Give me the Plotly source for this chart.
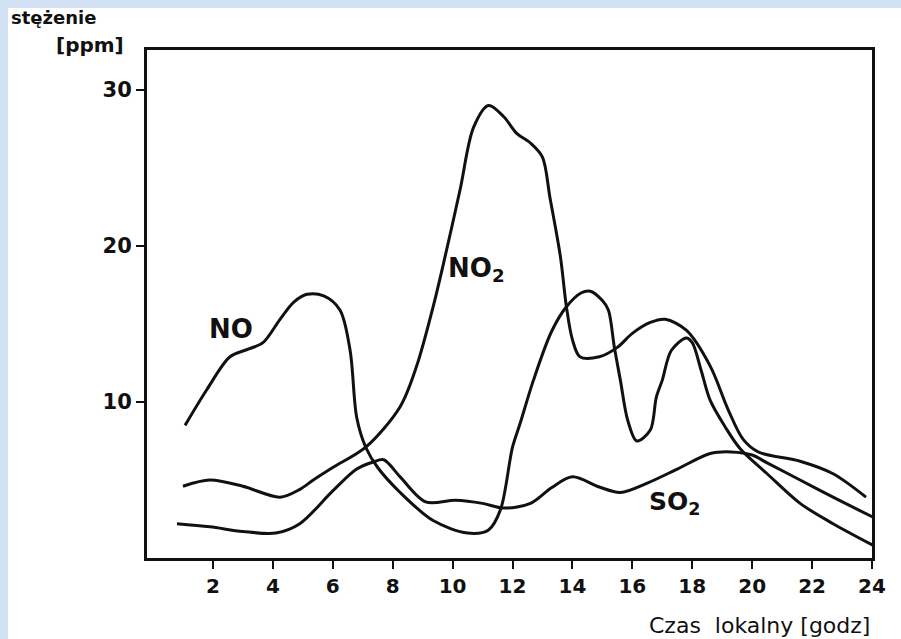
import plotly.graph_objects as go

# Hourly concentration profiles [ppm] over local time [h]
no_hours = [1.07, 1.8, 2.57, 3.2, 3.67, 4.24, 4.7, 5.14, 5.7, 6.24, 6.58, 6.8, 7.1, 7.5,
            8.25, 9.35, 10.5, 11.2, 11.6, 12.0, 12.25, 12.7, 13.3, 13.8, 14.3, 14.6,
            15.0, 15.2, 15.4, 15.6, 15.85, 16.15, 16.6, 16.8, 17.0, 17.3, 17.8, 18.0,
            18.3, 18.6, 19.1, 19.6, 20.5, 21.6, 22.7, 24.05]
no_ppm = [8.5, 10.8, 12.9, 13.4, 13.8, 15.3, 16.4, 16.9, 16.8, 15.9, 13.3, 9.0, 7.1, 5.8,
          4.2, 2.4, 1.6, 1.8, 3.1, 7.1, 8.6, 11.4, 14.5, 16.1, 17.0, 17.1,
          16.5, 15.9, 13.5, 11.4, 8.8, 7.5, 8.2, 10.3, 11.4, 13.3, 14.1, 13.8,
          12.0, 10.1, 8.4, 7.0, 5.4, 3.5, 2.2, 0.8]

no2_hours = [1.0, 1.9, 3.0, 4.24, 4.9, 5.35, 6.0, 7.1, 8.25, 8.8, 9.35, 9.7, 10.25,
             10.7, 11.2, 11.7, 12.15, 12.6, 13.0, 13.25, 13.6, 13.8, 14.0, 14.25, 14.9,
             15.5, 16.0, 16.6, 17.1, 17.8, 18.6, 19.2, 19.7, 20.2, 21.6, 22.7, 23.8]
no2_ppm = [4.6, 5.0, 4.6, 3.9, 4.4, 5.0, 5.8, 7.1, 9.7, 12.3, 16.1, 18.9, 23.6,
           27.6, 29.0, 28.3, 27.2, 26.6, 25.7, 23.1, 19.3, 16.1, 14.0, 12.9, 12.9,
           13.5, 14.4, 15.1, 15.3, 14.6, 12.3, 9.5, 7.6, 6.8, 6.2, 5.4, 3.9]

so2_hours = [0.8, 1.9, 3.0, 4.1, 4.9, 6.0, 6.8, 7.35, 7.7, 8.25, 9.1, 10.1, 11.0, 11.7,
             12.6, 13.3, 14.0, 14.9, 15.6, 16.5, 17.5, 18.6, 19.3, 20.0, 20.5, 21.6,
             22.7, 24.05]
so2_ppm = [2.2, 2.0, 1.7, 1.6, 2.2, 4.3, 5.7, 6.15, 6.3, 5.2, 3.6, 3.7, 3.5, 3.2,
           3.5, 4.5, 5.2, 4.55, 4.2, 4.8, 5.7, 6.7, 6.8, 6.6, 6.1, 5.0,
           3.9, 2.6]

x_ticks = [2, 4, 6, 8, 10, 12, 14, 16, 18, 20, 22, 24]
y_ticks = [10, 20, 30]

series = [
    ("NO", no_hours, no_ppm),
    ("NO2", no2_hours, no2_ppm),
    ("SO2", so2_hours, so2_ppm),
]

ink = "#111111"
font_main = "DejaVu Sans"

fig = go.Figure()
for name, xs, ys in series:
    fig.add_trace(go.Scatter(
        x=xs, y=ys, mode="lines", name=name,
        line=dict(color=ink, width=3, shape="spline", smoothing=0.9),
        showlegend=False,
    ))

# Curve labels
fig.add_annotation(x=2.6, y=14.7, text="<b>NO</b>", showarrow=False,
                   font=dict(family=font_main, size=26, color=ink))
fig.add_annotation(x=10.8, y=18.5, text="<b>NO<sub>2</sub></b>", showarrow=False,
                   font=dict(family=font_main, size=26, color=ink))
fig.add_annotation(x=17.4, y=3.5, text="<b>SO<sub>2</sub></b>", showarrow=False,
                   font=dict(family=font_main, size=25, color=ink))

# Axis titles
fig.add_annotation(xref="paper", yref="paper", x=-0.19, y=1.063,
                   xanchor="left", yanchor="middle", showarrow=False,
                   text="<b>stężenie</b>", font=dict(family=font_main, size=18, color=ink))
fig.add_annotation(xref="paper", yref="paper", x=-0.078, y=1.01,
                   xanchor="center", yanchor="middle", showarrow=False,
                   text="<b>[ppm]</b>", font=dict(family=font_main, size=20, color=ink))
fig.add_annotation(xref="paper", yref="paper", x=1.0, y=-0.132,
                   xanchor="right", yanchor="middle", showarrow=False,
                   text="Czas  lokalny [godz]", font=dict(family=font_main, size=22, color=ink))

# Paper sheet: white page over a light blue surround
fig.add_shape(type="rect", xref="paper", yref="paper",
              x0=-0.1917, x1=1.05, y0=-0.17, y1=1.0827,
              fillcolor="white", line=dict(width=0), layer="below")

fig.update_xaxes(
    range=[-0.2, 24.0], tickvals=x_ticks, ticktext=[f"<b>{v}</b>" for v in x_ticks],
    showline=True, mirror=True, linecolor=ink, linewidth=3,
    ticks="outside", ticklen=8, tickwidth=2, tickcolor=ink,
    showgrid=False, zeroline=False,
    tickfont=dict(family=font_main, size=20, color=ink),
)
fig.update_yaxes(
    range=[0, 32.56], tickvals=y_ticks, ticktext=[f"<b>{v}</b>" for v in y_ticks],
    showline=True, mirror=True, linecolor=ink, linewidth=3,
    ticks="outside", ticklen=8, tickwidth=2, tickcolor=ink,
    showgrid=False, zeroline=False,
    tickfont=dict(family=font_main, size=21, color=ink),
)

fig.update_layout(
    width=901, height=639, autosize=False,
    margin=dict(l=147, r=29, t=50, b=81),
    paper_bgcolor="#d2e2f4", plot_bgcolor="white",
)

fig.write_html("out.html")
